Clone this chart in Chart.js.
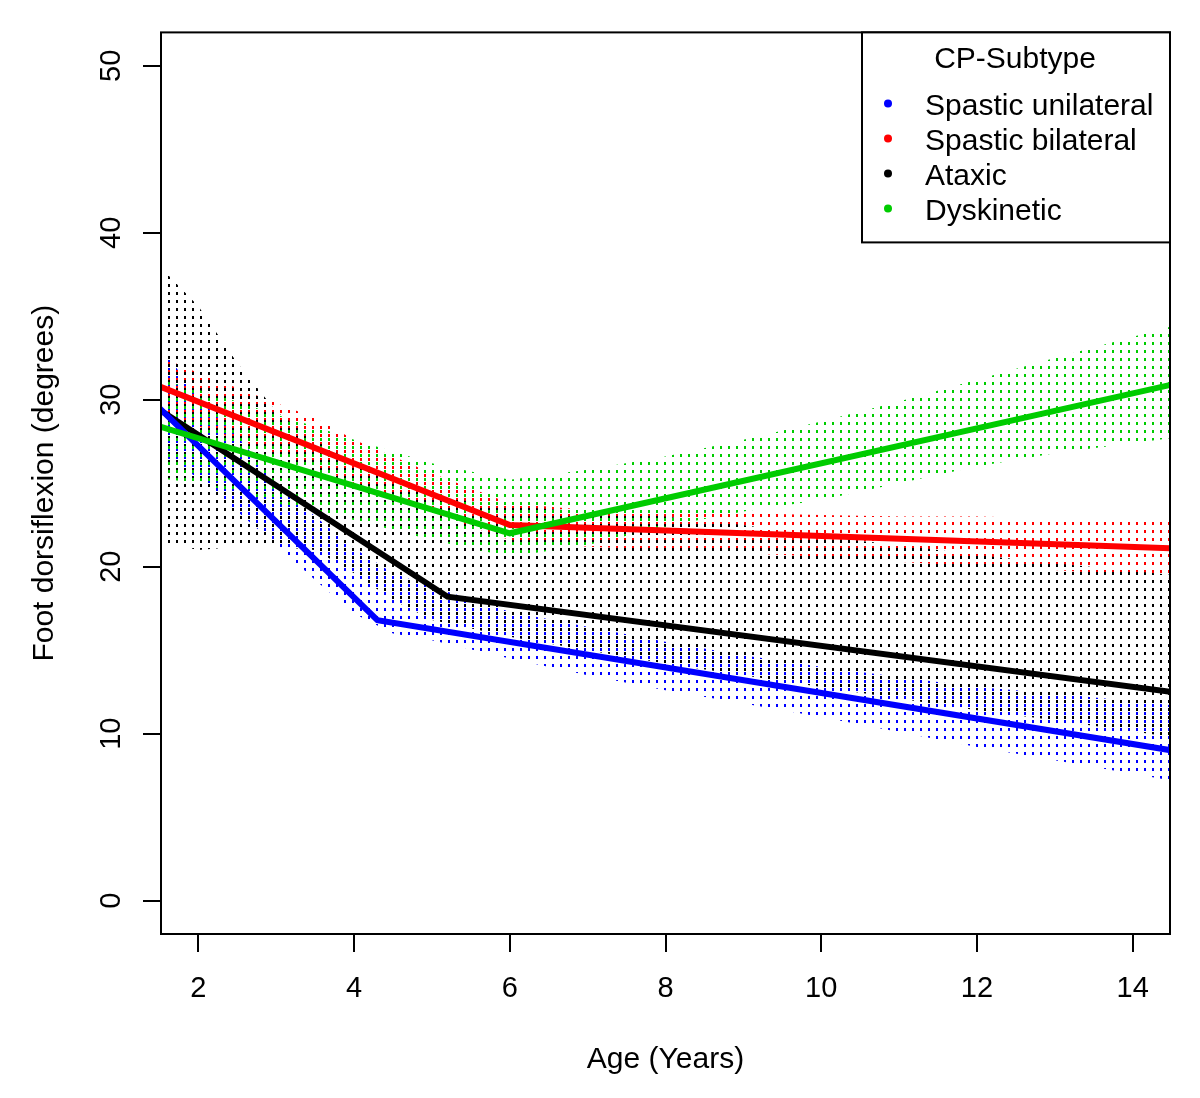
<!DOCTYPE html>
<html>
<head>
<meta charset="utf-8">
<script src="https://cdn.jsdelivr.net/npm/chart.js@4.4.0/dist/chart.umd.min.js"></script>
<style>
  html, body { margin: 0; padding: 0; background: #fff; }
  #wrap { width: 1200px; height: 1098px; }
</style>
</head>
<body>
<div id="wrap"><canvas id="cpChart" width="1200" height="1098"></canvas></div>
<script>
// Groups
const subtypes = ['Spastic unilateral', 'Spastic bilateral', 'Ataxic', 'Dyskinetic'];
const subtypeColors = ['#0000ff', '#ff0000', '#000000', '#00cc00'];

// Mean lines (knots)
const uniAges = [1.5, 4.3, 14.5];
const uniMean = [29.5, 16.8, 9.0];
const biAges = [1.5, 6.0, 14.5];
const biMean = [30.8, 22.5, 21.1];
const ataxAges = [1.5, 5.2, 14.5];
const ataxMean = [29.4, 18.2, 12.5];
const dysAges = [1.5, 6.0, 14.5];
const dysMean = [28.4, 22.0, 30.9];

// Confidence bands
const bandAges = [1.5, 2, 2.5, 3, 3.5, 4, 4.5, 5, 6, 7, 8, 9, 10, 11, 12, 13, 14.5];
const uniLower = [26.8, 25.3, 23.3, 21.3, 19.2, 17.2, 16.0, 15.6, 14.5, 13.5, 12.6, 11.8, 11.0, 10.1, 9.2, 8.4, 7.2];
const uniUpper = [33.3, 30.1, 27.8, 25.1, 23.0, 21.1, 19.6, 18.8, 17.3, 16.4, 15.5, 14.7, 14.0, 13.4, 12.8, 12.4, 11.7];
const biLower = [29.0, 28.4, 27.6, 26.8, 26.0, 25.0, 24.2, 23.2, 21.6, 21.2, 21.0, 20.8, 20.6, 20.3, 20.0, 19.8, 19.3];
const biUpper = [32.6, 31.6, 30.7, 29.8, 28.9, 27.6, 26.6, 25.6, 23.8, 23.4, 23.3, 23.2, 23.1, 23.0, 23.0, 22.9, 22.9];
const ataxLower = [21.5, 21.0, 21.2, 21.2, 21.0, 19.6, 18.0, 16.8, 15.8, 15.0, 14.2, 13.5, 12.8, 12.1, 11.4, 10.8, 9.8];
const ataxUpper = [38.0, 35.6, 32.2, 29.3, 27.6, 26.2, 25.0, 24.2, 23.6, 23.3, 23.0, 22.5, 21.8, 21.3, 20.7, 20.2, 19.5];
const dysLower = [25.3, 25.0, 24.4, 23.8, 23.3, 22.8, 22.2, 21.6, 20.6, 21.3, 22.4, 23.3, 24.0, 25.0, 26.0, 26.8, 27.7];
const dysUpper = [31.2, 30.6, 29.9, 29.1, 28.4, 27.6, 26.9, 26.2, 25.2, 25.8, 26.6, 27.6, 28.7, 29.9, 31.2, 32.5, 34.4];

// Axes
const xTicks = [2, 4, 6, 8, 10, 12, 14];
const yTicks = [0, 10, 20, 30, 40, 50];

function pts(xs, ys) {
    return xs.map((x, i) => ({ x: x, y: ys[i] }));
}

// vertical dotted hatch, like R's dotted segments
function makeHatch(color, offY) {
    const c = document.createElement('canvas');
    c.width = 8;
    c.height = 8;
    const g = c.getContext('2d');
    g.fillStyle = color;
    g.fillRect(0, offY, 2, 3);
    if (offY + 3 > 8) g.fillRect(0, offY - 8, 2, 3);
    return g.createPattern(c, 'repeat');
}

const FONT = "'Liberation Sans', Arial, sans-serif";

function lineSet(label, xs, ys, color) {
    return {
        label: label, data: pts(xs, ys), borderColor: color, backgroundColor: color,
        borderWidth: 6, pointRadius: 0, fill: false, tension: 0
    };
}
function bandPair(xs, lo, hi, color, offY) {
    return [
        { label: '', data: pts(xs, lo), borderWidth: 0, borderColor: 'transparent', pointRadius: 0, fill: false },
        { label: '', data: pts(xs, hi), borderWidth: 0, borderColor: 'transparent', pointRadius: 0,
          fill: '-1', backgroundColor: makeHatch(color, offY) }
    ];
}

const datasets = [
    lineSet(subtypes[3], dysAges, dysMean, subtypeColors[3]),
    lineSet(subtypes[0], uniAges, uniMean, subtypeColors[0]),
    lineSet(subtypes[1], biAges, biMean, subtypeColors[1]),
    lineSet(subtypes[2], ataxAges, ataxMean, subtypeColors[2]),
    ...bandPair(bandAges, dysLower, dysUpper, subtypeColors[3], 6),
    ...bandPair(bandAges, ataxLower, ataxUpper, subtypeColors[2], 4),
    ...bandPair(bandAges, biLower, biUpper, subtypeColors[1], 2),
    ...bandPair(bandAges, uniLower, uniUpper, subtypeColors[0], 0)
];

// box round the plot + legend in the top right corner
const boxAndLegend = {
    id: 'boxAndLegend',
    afterDraw(chart) {
        const ctx = chart.ctx;
        const a = chart.chartArea;
        ctx.save();
        ctx.strokeStyle = '#000';
        ctx.lineWidth = 2;
        ctx.strokeRect(a.left, a.top, a.right - a.left, a.bottom - a.top);

        const w = 308, h = 210;
        const x0 = a.right - w, y0 = a.top;
        ctx.fillStyle = '#fff';
        ctx.fillRect(x0, y0, w, h);
        ctx.strokeRect(x0, y0, w, h);

        ctx.fillStyle = '#000';
        ctx.font = '30px ' + FONT;
        ctx.textAlign = 'center';
        ctx.textBaseline = 'middle';
        ctx.fillText('CP-Subtype', x0 + 153, y0 + 27);

        ctx.textAlign = 'left';
        subtypes.forEach((name, i) => {
            const cy = y0 + 71 + i * 35;
            ctx.fillStyle = subtypeColors[i];
            ctx.beginPath();
            ctx.arc(x0 + 26, cy, 4, 0, Math.PI * 2);
            ctx.fill();
            ctx.fillStyle = '#000';
            ctx.fillText(name, x0 + 63, cy + 3);
        });
        ctx.restore();
    }
};

new Chart(document.getElementById('cpChart'), {
    type: 'line',
    data: { datasets: datasets },
    options: {
        responsive: false,
        animation: false,
        layout: { padding: { top: 31, right: 30, left: 0, bottom: 0 } },
        plugins: {
            legend: { display: false },
            tooltip: { enabled: false },
            filler: { propagate: false }
        },
        scales: {
            x: {
                type: 'linear',
                min: 1.52,
                max: 14.48,
                afterBuildTicks: s => { s.ticks = xTicks.map(v => ({ value: v })); },
                afterFit: s => { s.height = 164; },
                grid: { drawOnChartArea: false, drawTicks: true, tickLength: 18, color: '#000', lineWidth: 2 },
                border: { display: false },
                ticks: { color: '#000', font: { family: FONT, size: 29 }, padding: 20, maxRotation: 0 },
                title: { display: true, text: 'Age (Years)', color: '#000', font: { family: FONT, size: 30 },
                         padding: { top: 0, bottom: 20 } }
            },
            y: {
                type: 'linear',
                min: -2,
                max: 52,
                afterBuildTicks: s => { s.ticks = yTicks.map(v => ({ value: v })); },
                afterFit: s => { s.width = 161; },
                grid: { drawOnChartArea: false, drawTicks: true, tickLength: 18, color: '#000', lineWidth: 2 },
                border: { display: false },
                ticks: { color: '#000', font: { family: FONT, size: 29 }, padding: 15,
                         minRotation: 90, maxRotation: 90, crossAlign: 'center' },
                title: { display: true, text: 'Foot dorsiflexion (degrees)', color: '#000',
                         font: { family: FONT, size: 30 }, padding: { top: 27, bottom: 0 } }
            }
        }
    },
    plugins: [boxAndLegend]
});
</script>
</body>
</html>
